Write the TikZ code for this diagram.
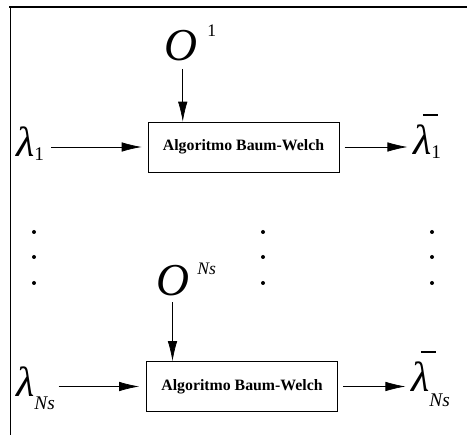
\documentclass[tikz,border=0pt]{standalone}
\usepackage{fontspec}
\setmainfont{Liberation Serif}
\usetikzlibrary{arrows.meta}
\usetikzlibrary{positioning}

\tikzset{
  bwbox/.style = {draw, minimum width=3.82cm, minimum height=1.0cm,
    font=\fontsize{9}{10}\selectfont\bfseries},
  flow/.style = {-{Latex[length=4mm,width=1.9mm]}},
  bigsym/.style = {inner sep=1pt, anchor=base, font=\fontsize{26}{30}\selectfont\itshape},
  lam/.style = {inner sep=1pt, anchor=base west, font=\fontsize{24}{28}\selectfont\itshape},
  idx/.style = {inner sep=0pt, anchor=base west, font=\fontsize{10}{11}\selectfont},
}

\newcommand{\lowidx}[2]{\raisebox{#1}{\fontsize{11}{12}\selectfont #2}}
\newcommand{\barlam}{\rlap{\hspace{5.5pt}\raisebox{22pt}{\rule{8.5pt}{1.1pt}}}λ}

\begin{document}
\begin{tikzpicture}[x=0.02cm, y=-0.02cm]
    \useasboundingbox (0,0) rectangle (467,435);

    % frame
    \draw[thick] (9,7) -- (467,7);
    \draw (10,7) -- (10,435);

    % first run
    \node[bwbox] (bw1) at (243.5,147) {Algoritmo Baum-Welch};
    \node[bigsym] (o1) at (181,61) {O};
    \node[idx] (o1sup) at (207,37) {1};
    \node[lam] (lam1) at (14,157) {λ\lowidx{-2pt}{\upshape 1}};
    \node[lam] (lamb1) at (411,155) {\barlam\lowidx{-2pt}{\upshape 1}};

    \draw[flow] ([xshift=1pt,yshift=-3pt]o1.south) -- ([xshift=1pt]o1.south |- bw1.north);
    \draw[flow, shorten >=3.4pt] ([xshift=3pt]lam1.east |- bw1.west) -- (bw1.west);
    \draw[flow, shorten <=3pt, shorten >=2pt] (bw1.east) -- (bw1.east -| lamb1.west);

    % dots
    \foreach \x in {34,263,432}
        \foreach \y in {232,257,283}
            \fill (\x,\y) circle (2);

    % last run
    \node[bwbox] (bwN) at (242,386.5) {Algoritmo Baum-Welch};
    \node[bigsym] (oN) at (172.5,296) {O};
    \node[idx, font=\fontsize{10}{11}\selectfont\itshape] (oNsup) at (197,275) {Ns};
    \node[lam] (lamN) at (14,397) {λ\lowidx{-7pt}{Ns}};
    \node[lam] (lambN) at (409,392) {\barlam\lowidx{-8pt}{Ns}};

    \draw[flow] ([yshift=-2pt]oN.south) -- (oN.south |- bwN.north);
    \draw[flow, shorten >=4pt] ([xshift=1pt]lamN.east |- bwN.west) -- (bwN.west);
    \draw[flow, shorten <=3pt, shorten >=2pt] (bwN.east) -- (bwN.east -| lambN.west);
\end{tikzpicture}
\end{document}
